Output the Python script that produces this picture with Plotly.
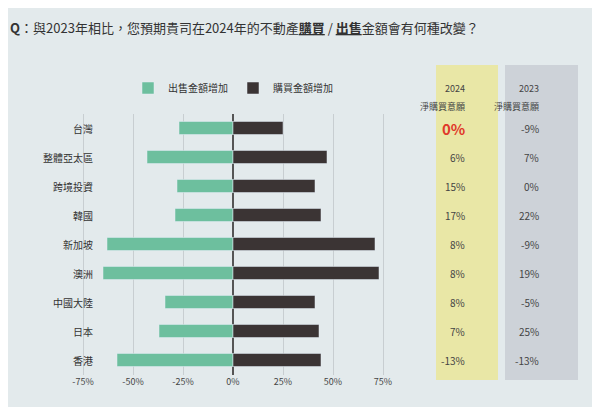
import plotly.graph_objects as go

regions = ["台灣", "整體亞太區", "跨境投資", "韓國", "新加坡", "澳洲", "中國大陸", "日本", "香港"]
sell = [-27, -43, -28, -29, -63, -65, -34, -37, -58]
buy = [25, 47, 41, 44, 71, 73, 41, 43, 44]
net_2024 = ["0%", "6%", "15%", "17%", "8%", "8%", "8%", "7%", "-13%"]
net_2023 = ["-9%", "7%", "0%", "22%", "-9%", "19%", "-5%", "25%", "-13%"]
tick_vals = [-75, -50, -25, 0, 25, 50, 75]
tick_text = ["-75%", "-50%", "-25%", "0%", "25%", "50%", "75%"]

W, H = 600, 407
BG = "#e3eaec"
FONT = "Noto Sans CJK TC"

fig = go.Figure()
fig.add_trace(go.Bar(y=regions, x=sell, orientation="h", name="出售金額增加",
                     marker_color="#6dbf9e", width=0.45))
fig.add_trace(go.Bar(y=regions, x=buy, orientation="h", name="購買金額增加",
                     marker_color="#3b3434", width=0.45))

def px(x0, x1, y0, y1):
    return dict(xref="paper", yref="paper", x0=x0 / W, x1=x1 / W,
                y0=1 - y1 / H, y1=1 - y0 / H)

shapes = [
    dict(type="rect", fillcolor="#e9e7a6", line_width=0, layer="below", **px(428, 490, 57, 372)),
    dict(type="rect", fillcolor="#cdd2d8", line_width=0, layer="below", **px(497, 570, 57, 372)),
]

ann = [
    dict(text="<b>Q</b>：與2023年相比，您預期貴司在2024年的不動產<b><u>購買</u></b> / <b><u>出售</u></b>金額會有何種改變？",
         xref="paper", yref="paper", x=0.0, y=1 - 20 / H, xanchor="left", yanchor="middle",
         showarrow=False, font=dict(size=13, color="#333")),
]
for xc, yr in [(459, "2024"), (533, "2023")]:
    ann.append(dict(text=yr, xref="paper", yref="paper", x=xc / W, y=1 - 72 / H,
                    showarrow=False, font=dict(size=9, color="#444")))
    ann.append(dict(text="淨購買意願", xref="paper", yref="paper", x=xc / W, y=1 - 90 / H,
                    showarrow=False, font=dict(size=9, color="#444")))
for i, r in enumerate(regions):
    ann.append(dict(text=r, xref="x", yref="y", x=-69, y=r, xanchor="right",
                    showarrow=False, font=dict(size=10, color="#333")))
    if net_2024[i] == "0%":
        t, c, s = "<b>0%</b>", "#e03a2a", 15
    else:
        t, c, s = net_2024[i], "#444", 10
    ann.append(dict(text=t, xref="paper", yref="y", x=459 / W, y=r,
                    showarrow=False, font=dict(size=s, color=c)))
    ann.append(dict(text=net_2023[i], xref="paper", yref="y", x=533 / W, y=r,
                    showarrow=False, font=dict(size=10, color="#444")))

fig.update_layout(
    width=W, height=H, barmode="relative",
    margin=dict(l=0, r=0, t=0, b=0),
    paper_bgcolor=BG, plot_bgcolor=BG,
    font=dict(family=FONT, color="#333"),
    shapes=shapes, annotations=ann,
    legend=dict(orientation="h", x=225 / W, xanchor="center", y=1 - 80 / H, yanchor="middle",
                font=dict(size=10), bgcolor="rgba(0,0,0,0)", itemwidth=30),
    bargap=0.5,
)
fig.update_xaxes(domain=[55 / W, 395 / W], range=[-85, 85], tickvals=tick_vals, ticktext=tick_text,
                 showgrid=True, gridcolor="#c8ced1", zeroline=True, zerolinecolor="#555",
                 zerolinewidth=1.5, tickfont=dict(size=9, color="#444"))
fig.update_yaxes(domain=[(H - 366.5) / H, (H - 105.5) / H], autorange="reversed",
                 showticklabels=False, showgrid=False)

fig.write_html("out.html")
